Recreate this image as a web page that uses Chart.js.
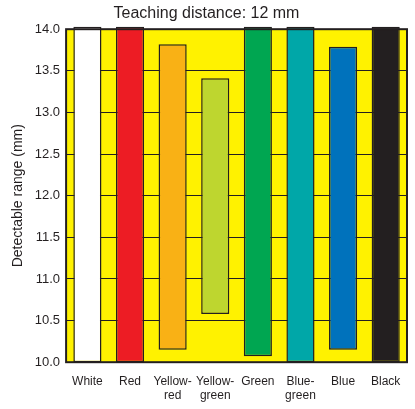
<!DOCTYPE html><html><head><style>html,body{margin:0;padding:0;background:#fff}#w{width:415px;height:409px}</style>
<script src="https://cdn.jsdelivr.net/npm/chart.js@4/dist/chart.umd.min.js"></script></head><body><div id="w"><canvas id="c"></canvas></div>
<script>
const categories=[["White"],["Red"],["Yellow-","red"],["Yellow-","green"],["Green"],["Blue-","green"],["Blue"],["Black"]];
const lows=[10.0,10.0,10.15,10.58,10.07,10.0,10.15,10.0];
const highs=[14.03,14.03,13.82,13.41,14.03,14.03,13.79,14.03];
const colors=["#ffffff","#ed1c24","#f9b115","#bed62f","#00a651","#00a7a8","#0072bc","#231f20"];
const yTicks=[10.0,10.5,11.0,11.5,12.0,12.5,13.0,13.5,14.0];
const bg={id:'bg',beforeDraw(ch){const a=ch.chartArea,x=ch.ctx;x.save();x.fillStyle='#fff200';x.fillRect(a.left,a.top,a.right-a.left,a.bottom-a.top);x.restore();},
afterDatasetsDraw(ch){const a=ch.chartArea,x=ch.ctx;x.save();x.strokeStyle='#231f20';x.lineWidth=2;x.strokeRect(a.left,a.top,a.right-a.left,a.bottom-a.top);x.restore();}};
new Chart(document.getElementById('c'),{type:'bar',data:{labels:categories,datasets:[{data:lows.map((l,i)=>[l,highs[i]]),backgroundColor:colors,borderColor:'#231f20',borderWidth:1.5,borderSkipped:false,barPercentage:0.66,categoryPercentage:1,clip:false}]},
options:{responsive:true,maintainAspectRatio:false,animation:false,layout:{padding:{left:6,right:8,top:0,bottom:2}},
plugins:{legend:{display:false},tooltip:{enabled:false},title:{display:true,text:'Teaching distance: 12 mm',color:'#231f20',font:{family:'Liberation Sans',size:16,weight:'normal'},padding:{top:4,bottom:6}}},
scales:{x:{grid:{display:false},border:{display:false},ticks:{color:'#231f20',font:{family:'Liberation Sans',size:12},padding:4,maxRotation:0,autoSkip:false}},
y:{min:10,max:14,afterBuildTicks(ax){ax.ticks=yTicks.map(v=>({value:v}));},grid:{color:'#231f20',lineWidth:1,drawTicks:false},border:{display:false},
ticks:{color:'#231f20',font:{family:'Liberation Sans',size:13},padding:6,callback:v=>v.toFixed(1)},
title:{display:true,text:'Detectable range (mm)',color:'#231f20',font:{family:'Liberation Sans',size:14},padding:{bottom:2}}}}},plugins:[bg]});
</script></body></html>
